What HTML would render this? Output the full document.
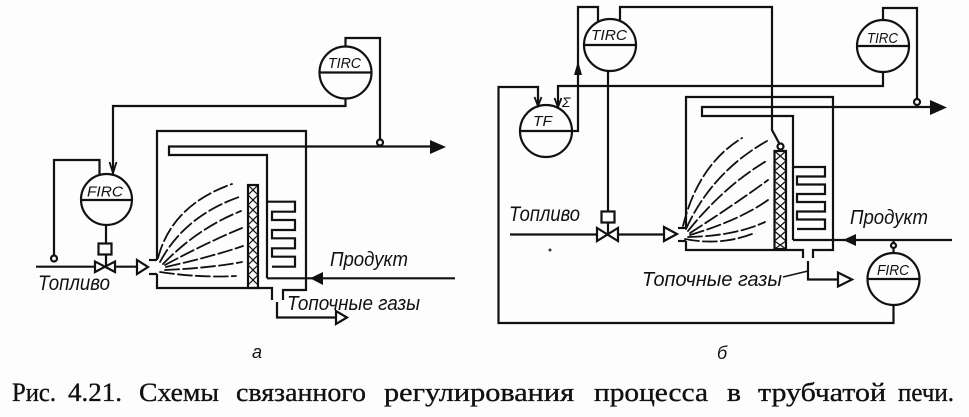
<!DOCTYPE html>
<html>
<head>
<meta charset="utf-8">
<style>
html,body{margin:0;padding:0;background:#fdfdfd;}
svg{display:block;}
.l{font-family:"Liberation Sans","DejaVu Sans",sans-serif;font-style:italic;fill:#111;}
.c{font-family:"Liberation Serif","DejaVu Serif",serif;fill:#111;stroke:#111;stroke-width:0.35;}
</style>
</head>
<body>
<svg width="969" height="417" viewBox="0 0 969 417" xmlns="http://www.w3.org/2000/svg">
<rect width="969" height="417" fill="#fdfdfd"/>

<!-- ================= LEFT DIAGRAM (a) ================= -->
<g stroke="#111" stroke-width="2.2" fill="none" stroke-linejoin="miter">
  <!-- TIRC -->
  <circle cx="345.5" cy="72.5" r="26"/>
  <line x1="319.5" y1="72.5" x2="371.5" y2="72.5"/>
  <polyline points="345.5,46.5 345.5,38 380,38 380,139.5"/>
  <circle cx="380" cy="142.5" r="3"/>
  <polyline points="345.5,98.5 345.5,106 113,106 113,174"/>
  <polyline points="109.5,162 113,173 116.5,162" stroke-width="1.8"/>
  <!-- FIRC -->
  <circle cx="106.5" cy="199.5" r="25.5"/>
  <line x1="81" y1="200" x2="132" y2="200"/>
  <polyline points="99.5,174.5 99.5,160 54,160 54,255.5"/>
  <circle cx="54" cy="258.5" r="3"/>
  <line x1="106" y1="225" x2="106" y2="243.5"/>
  <rect x="98.5" y="243.5" width="13" height="11"/>
  <line x1="106" y1="254.5" x2="106" y2="266.7"/>
  <!-- fuel line & valve -->
  <line x1="36" y1="266.7" x2="137" y2="266.7"/>
  <polygon points="95,261.5 95,272 105,266.7" fill="#fdfdfd"/>
  <polygon points="115,261.5 115,272 105,266.7" fill="#fdfdfd"/>
  <!-- burner -->
  <polygon points="137,260 137,274 148,267" fill="#fdfdfd"/>
  <line x1="149" y1="260" x2="157" y2="260"/>
  <line x1="149" y1="274" x2="157" y2="274"/>
  <!-- furnace -->
  <polyline points="157,260 157,131 306,131 306,290 283,290 283,300"/>
  <polyline points="157,274 157,288 272,288 272,300"/>
  <!-- coil -->
  <polyline points="430,146.5 169,146.5 169,155 267,155 267,201.7 295,201.7 295,211.7 272,211.7 272,220 295,220 295,230 272,230 272,238.3 295,238.3 295,248.3 272,248.3 272,256.7 295,256.7 295,266.7 272,266.7"/>
  <line x1="267" y1="201.7" x2="267" y2="278.3"/>
  <line x1="455" y1="278.3" x2="267" y2="278.3"/>
  <!-- hatched wall -->
  <rect x="248" y="185" width="10" height="103"/>
  <!-- flue -->
  <polyline points="277,302 277,317.5 336,317.5"/>
  <polygon points="336,311 336,324 347,317.5" fill="#fdfdfd"/>
</g>
<g stroke="#111" stroke-width="1.2" fill="none">
  <path d="M248,185L258,195M258,185L248,195M248,195L258,205M258,195L248,205M248,205L258,215M258,205L248,215M248,215L258,225M258,215L248,225M248,225L258,235M258,225L248,235M248,235L258,245M258,235L248,245M248,245L258,255M258,245L248,255M248,255L258,265M258,255L248,265M248,265L258,275M258,265L248,275M248,275L258,285M258,275L248,285"/>
</g>
<!-- arrows filled -->
<polygon points="430,140 430,154 446,147" fill="#111"/>
<polygon points="310,278.3 323,272 323,285" fill="#111"/>
<!-- flames left -->
<g stroke="#111" stroke-width="1.8" fill="none" stroke-dasharray="14 4" stroke-linecap="round">
  <path d="M158,258 Q172,205 232,184"/>
  <path d="M160,262 Q185,215 242,196"/>
  <path d="M163,264 Q198,228 241,211"/>
  <path d="M165,265 Q208,242 242,228"/>
  <path d="M166,267 Q214,256 243,246"/>
  <path d="M165,270 Q210,268 242,262"/>
  <path d="M160,272 Q200,278 236,276"/>
</g>
<!-- bubble labels left -->
<text class="l" x="328" y="68" font-size="15" textLength="33" lengthAdjust="spacingAndGlyphs">TIRC</text>
<text class="l" x="87" y="196.5" font-size="15" textLength="36" lengthAdjust="spacingAndGlyphs">FIRC</text>
<!-- labels left -->
<text class="l" x="38" y="290" font-size="21" textLength="72" lengthAdjust="spacingAndGlyphs">Топливо</text>
<text class="l" x="330" y="266" font-size="20" textLength="78" lengthAdjust="spacingAndGlyphs">Продукт</text>
<text class="l" x="287" y="310" font-size="20" textLength="133" lengthAdjust="spacingAndGlyphs">Топочные газы</text>

<!-- ================= RIGHT DIAGRAM (б) ================= -->
<g stroke="#111" stroke-width="2.2" fill="none">
  <!-- TIRC1 -->
  <circle cx="610" cy="45" r="26"/>
  <line x1="584" y1="45" x2="636" y2="45"/>
  <polyline points="598,21 598,7 578,7 578,131 572,131"/>
  <polyline points="620,20 620,7 772,7 772,130 779,143"/>
  <circle cx="780.5" cy="146.5" r="3"/>
  <line x1="608" y1="71" x2="608" y2="211.5"/>
  <rect x="601.5" y="211.5" width="13" height="11"/>
  <line x1="608" y1="222.5" x2="608" y2="234.5"/>
  <!-- fuel line & valve -->
  <line x1="510" y1="234.5" x2="664" y2="234.5"/>
  <polygon points="597,228 597,241 607.5,234.5" fill="#fdfdfd"/>
  <polygon points="618,228 618,241 607.5,234.5" fill="#fdfdfd"/>
  <polygon points="664,227 664,241 677,234" fill="#fdfdfd"/>
  <line x1="678" y1="228" x2="686" y2="228"/>
  <line x1="678" y1="241" x2="686" y2="241"/>
  <!-- furnace -->
  <polyline points="686,228 686,97 833,97 833,250 813,250 813,258"/>
  <polyline points="686,241 686,250 803,250 803,258"/>
  <!-- coil -->
  <polyline points="930,107 702,107 702,116 793,116 793,167 825,167 825,176.5 797,176.5 797,184.5 825,184.5 825,194 797,194 797,202 825,202 825,211.5 797,211.5 797,219.5 825,219.5 825,229 797,229"/>
  <line x1="793" y1="167" x2="793" y2="240"/>
  <line x1="952" y1="240" x2="793" y2="240"/>
  <!-- hatched -->
  <rect x="774.5" y="151" width="11.5" height="98"/>
  <!-- FIRC right -->
  <circle cx="893.5" cy="279" r="26"/>
  <line x1="867.5" y1="279" x2="919.5" y2="279"/>
  <circle cx="893.5" cy="245.5" r="2.5"/>
  <line x1="893.5" y1="240" x2="893.5" y2="243"/>
  <line x1="893.5" y1="248" x2="893.5" y2="253"/>
  <!-- loop -->
  <polyline points="893.5,305 893.5,323 498.5,323 498.5,87 538,87 538,105"/>
  <polyline points="534.5,97 538,106 541.5,97" stroke-width="1.8"/>
  <!-- TF -->
  <circle cx="546" cy="131" r="26"/>
  <line x1="520" y1="131" x2="572" y2="131"/>
  <polyline points="558,107 558,86 883,86 883,72"/>
  <polyline points="554.5,98 558,107 561.5,98" stroke-width="1.8"/>
  <!-- TIRC2 -->
  <circle cx="883" cy="46" r="26"/>
  <line x1="857" y1="46" x2="909" y2="46"/>
  <polyline points="883,20 883,8 917,8 917,99"/>
  <circle cx="917" cy="102" r="3"/>
  <!-- flue -->
  <polyline points="808,261 808,279.5 838,279.5"/>
  <polygon points="838,272.5 838,286.5 852,279.5" fill="#fdfdfd"/>
  <line x1="783" y1="277" x2="808" y2="271" stroke-width="1.6"/>
</g>
<g stroke="#111" stroke-width="1.2" fill="none">
  <path d="M774.5,151L786,161M786,151L774.5,161M774.5,161L786,171M786,161L774.5,171M774.5,171L786,181M786,171L774.5,181M774.5,181L786,191M786,181L774.5,191M774.5,191L786,201M786,191L774.5,201M774.5,201L786,211M786,201L774.5,211M774.5,211L786,221M786,211L774.5,221M774.5,221L786,231M786,221L774.5,231M774.5,231L786,241M786,231L774.5,241M774.5,241L786,249M786,241L774.5,249"/>
</g>
<polygon points="930,100 930,115 947,107.5" fill="#111"/>
<polygon points="843,240 856,234 856,246" fill="#111"/>
<polygon points="578,61 574,75 582,75" fill="#111"/>
<circle cx="550" cy="250" r="1.5" fill="#333"/>
<!-- flames right -->
<g stroke="#111" stroke-width="1.8" fill="none" stroke-dasharray="14 4" stroke-linecap="round">
  <path d="M683,226 Q698,165 742,138"/>
  <path d="M686,229 Q712,172 767,141"/>
  <path d="M688,231 Q724,186 768,160"/>
  <path d="M690,233 Q734,205 768,180"/>
  <path d="M690,235 Q740,220 768,200"/>
  <path d="M688,237 Q735,236 765,222"/>
  <path d="M685,239 Q720,246 752,234"/>
</g>
<!-- bubble labels right -->
<text class="l" x="591" y="40" font-size="15" textLength="36" lengthAdjust="spacingAndGlyphs">TIRC</text>
<text class="l" x="867" y="43" font-size="15" textLength="31" lengthAdjust="spacingAndGlyphs">TIRC</text>
<text class="l" x="533" y="126" font-size="15" textLength="19" lengthAdjust="spacingAndGlyphs">TF</text>
<text class="l" x="877" y="275" font-size="15" textLength="32" lengthAdjust="spacingAndGlyphs">FIRC</text>
<text class="l" x="562" y="107" font-size="14">Σ</text>
<!-- labels right -->
<text class="l" x="509" y="221" font-size="21" textLength="71" lengthAdjust="spacingAndGlyphs">Топливо</text>
<text class="l" x="850" y="224" font-size="20" textLength="78" lengthAdjust="spacingAndGlyphs">Продукт</text>
<text class="l" x="642" y="286" font-size="20" textLength="140" lengthAdjust="spacingAndGlyphs">Топочные газы</text>

<!-- sub labels -->
<text class="l" x="252" y="358" font-size="18">а</text>
<text class="l" x="717" y="359" font-size="18">б</text>

<!-- caption -->
<g class="c" font-size="26">
  <text x="12" y="401" textLength="44" lengthAdjust="spacingAndGlyphs">Рис.</text>
  <text x="68" y="401" textLength="54" lengthAdjust="spacingAndGlyphs">4.21.</text>
  <text x="139" y="401" textLength="80" lengthAdjust="spacingAndGlyphs">Схемы</text>
  <text x="236" y="401" textLength="130" lengthAdjust="spacingAndGlyphs">связанного</text>
  <text x="384" y="401" textLength="190" lengthAdjust="spacingAndGlyphs">регулирования</text>
  <text x="594" y="401" textLength="114" lengthAdjust="spacingAndGlyphs">процесса</text>
  <text x="727" y="401" textLength="14" lengthAdjust="spacingAndGlyphs">в</text>
  <text x="758" y="401" textLength="128" lengthAdjust="spacingAndGlyphs">трубчатой</text>
  <text x="898" y="401" textLength="56" lengthAdjust="spacingAndGlyphs">печи.</text>
</g>
</svg>
</body>
</html>
